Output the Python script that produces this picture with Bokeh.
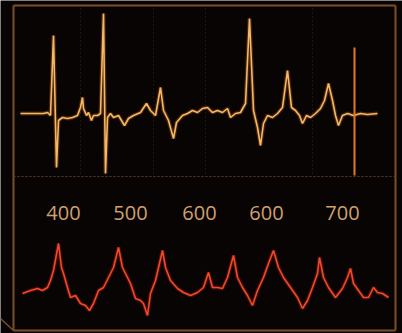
from bokeh.plotting import figure
from bokeh.models import Range1d, ColumnDataSource
from bokeh.core.properties import value
from bokeh.embed import file_html
from bokeh.resources import INLINE

# --- data -------------------------------------------------------------
# upper trace (time, amplitude)
top_t = [20, 43, 47, 50, 53, 56, 58, 62, 67, 72, 77, 80, 82, 83, 86, 88, 91, 93, 97, 100,
         103, 105, 107, 110, 113, 118, 124, 128, 133, 140, 146, 150, 155, 160, 163, 168, 173,
         176, 182, 187, 192, 197, 202, 207, 212, 217, 222, 227, 230, 235, 240, 245, 249, 253,
         257, 260, 263, 267, 272, 277, 282, 287, 291, 295, 299, 302, 306, 310, 315, 320, 324,
         328, 332, 335, 338, 342, 347, 353, 360, 367, 377]
top_v = [0.00, 0.00, 0.01, -0.02, 0.78, -0.54, -0.07, -0.04, -0.05, -0.04, -0.02, 0.06, 0.16,
         0.05, -0.02, 0.01, -0.07, -0.02, -0.02, 0.00, 1.00, -0.60, -0.04, 0.00, -0.04, -0.02,
         -0.12, -0.05, -0.02, 0.01, 0.10, 0.03, -0.02, 0.26, 0.03, -0.07, -0.25, -0.09, -0.02,
         0.00, 0.03, 0.01, 0.05, 0.06, 0.01, 0.03, 0.01, 0.05, -0.04, 0.00, 0.01, 0.10, 0.95,
         0.03, -0.14, -0.32, -0.10, -0.02, -0.04, 0.00, 0.06, 0.43, 0.06, 0.03, -0.02, -0.10,
         -0.02, -0.04, 0.00, 0.05, 0.13, 0.30, 0.13, -0.02, -0.12, -0.02, 0.00, -0.02, 0.00,
         -0.01, 0.00]
# marker line in upper trace
marker_t = [354]
marker_lo = [-0.62]
marker_hi = [0.66]

# lower trace (time, amplitude)
bot_t = [22, 30, 37, 42, 47, 50, 53, 58, 61, 63, 67, 70, 75, 80, 85, 89, 93, 98, 103, 108, 113,
         118, 122, 125, 130, 135, 140, 143, 147, 150, 155, 162, 165, 170, 177, 183, 190, 197,
         203, 208, 212, 217, 222, 227, 233, 237, 242, 247, 252, 257, 263, 268, 273, 278, 283,
         290, 297, 302, 307, 312, 317, 319, 323, 328, 335, 342, 347, 350, 353, 358, 363, 368,
         373, 377, 382, 388]
bot_v = [0.00, 0.06, 0.10, 0.06, 0.12, 0.26, 0.46, 1.00, 0.52, 0.40, 0.12, -0.08, -0.04, -0.20,
         -0.24, -0.34, -0.20, 0.06, 0.12, 0.32, 0.52, 0.92, 0.52, 0.40, 0.20, -0.10, -0.14,
         -0.20, -0.44, 0.00, 0.26, 0.86, 0.52, 0.26, 0.10, 0.02, -0.04, 0.02, 0.12, 0.42, 0.12,
         0.12, 0.10, 0.32, 0.76, 0.32, 0.12, -0.04, -0.24, 0.06, 0.32, 0.60, 0.86, 0.52, 0.32,
         0.12, -0.08, -0.30, -0.14, 0.12, 0.40, 0.72, 0.32, 0.12, -0.08, 0.10, 0.32, 0.50,
         0.20, 0.06, -0.08, -0.08, 0.12, 0.02, 0.00, -0.08]

# scale labels
tick_pos = [63, 130, 199, 266, 342]
tick_labels = ["400", "500", "600", "600", "700"]

# --- figure -----------------------------------------------------------
W, H = 402, 333
p = figure(width=W, height=H, output_backend="svg", toolbar_location=None,
           x_range=Range1d(0, 402), y_range=Range1d(333, 0),
           min_border=0, background_fill_color="#080403",
           border_fill_color="#080403", outline_line_color=None)
p.axis.visible = False
p.grid.visible = False
p.extra_y_ranges = {"top": Range1d(-2.20, 1.13), "bot": Range1d(-0.80, 5.86)}

# frame
frame_col = "#7a4e2a"
p.segment(x0=[13, 395, 13, 13], y0=[5, 5, 5, 330], x1=[13, 395, 395, 395],
          y1=[330, 330, 5, 330], line_color=frame_col, line_width=2)
p.segment(x0=[13], y0=[176], x1=[395], y1=[176], line_color="#5a3a20",
          line_width=1, line_dash="2 2")
p.segment(x0=[0], y0=[318], x1=[13], y1=[330], line_color=frame_col, line_width=1.5)

# faint dotted grid lines in upper panel
p.segment(x0=[80, 153, 205, 312], y0=[8, 8, 8, 8], x1=[80, 153, 205, 312],
          y1=[175, 175, 175, 175], line_color="#3a2412", line_width=1, line_dash="1 3")

# upper trace
src_top = ColumnDataSource(dict(t=top_t, v=top_v))
p.line("t", "v", source=src_top, y_range_name="top", line_color="#c06010",
       line_width=4, line_alpha=0.35)
p.line("t", "v", source=src_top, y_range_name="top", line_color="#f4b868",
       line_width=1.6)
p.segment(x0=marker_t, y0=marker_lo, x1=marker_t, y1=marker_hi, y_range_name="top",
          line_color="#e07a20", line_width=2)

# labels
p.text(x=tick_pos, y=[212] * len(tick_pos), text=tick_labels,
       text_font=value("Open Sans"), text_font_size="20px", text_color="#cfa070",
       text_align="center", text_baseline="middle")

# lower trace
src_bot = ColumnDataSource(dict(t=bot_t, v=bot_v))
p.line("t", "v", source=src_bot, y_range_name="bot", line_color="#b02010",
       line_width=4, line_alpha=0.35)
p.line("t", "v", source=src_bot, y_range_name="bot", line_color="#f04a28",
       line_width=1.6)

open("out.html", "w").write(file_html(p, INLINE))
